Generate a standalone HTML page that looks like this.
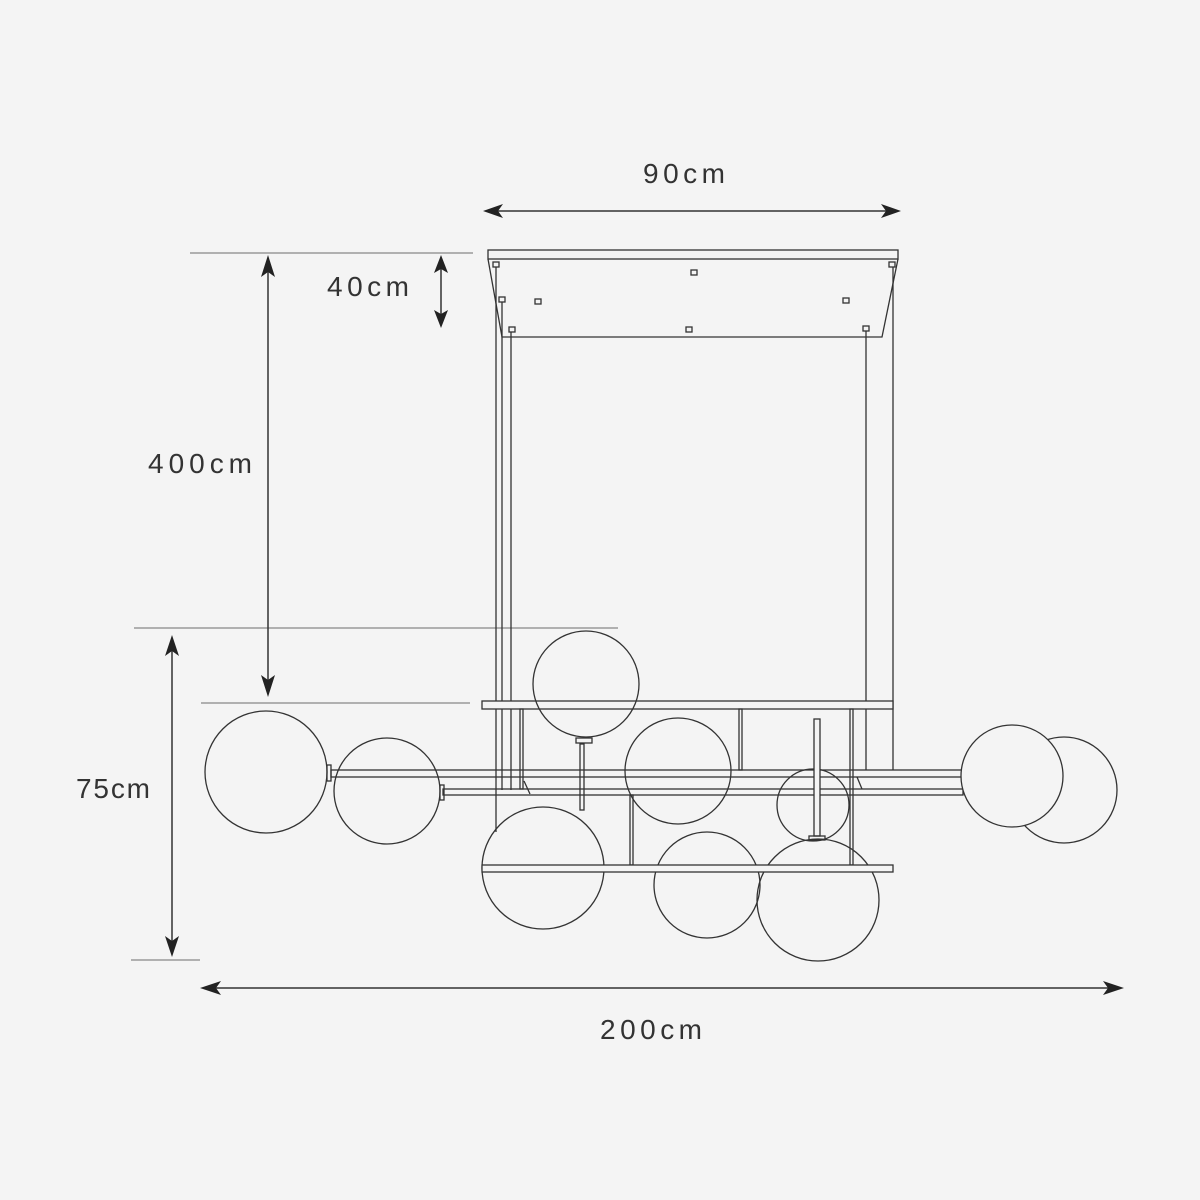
<!DOCTYPE html>
<html><head><meta charset="utf-8"><style>
html,body{margin:0;padding:0;background:#f4f4f4;}
svg{display:block;}
text{font-family:"Liberation Sans",sans-serif;font-size:28px;fill:#333;}
</style></head><body>
<svg width="1200" height="1200" viewBox="0 0 1200 1200" xmlns="http://www.w3.org/2000/svg">
<rect width="1200" height="1200" fill="#f4f4f4"/>
<!-- extension lines -->
<g stroke="#888" stroke-width="1.2" fill="none">
<line x1="190" y1="253" x2="473" y2="253"/>
<line x1="134" y1="628" x2="618" y2="628"/>
<line x1="201" y1="703" x2="470" y2="703"/>
<line x1="131" y1="960" x2="200" y2="960"/>
</g>
<!-- dimension lines -->
<g stroke="#333" stroke-width="1.5" fill="none">
<line x1="490" y1="211" x2="895" y2="211"/>
<line x1="441" y1="260" x2="441" y2="320"/>
<line x1="268" y1="262" x2="268" y2="690"/>
<line x1="172" y1="643" x2="172" y2="950"/>
<line x1="207" y1="988" x2="1116" y2="988"/>
</g>
<g fill="#222">
<path d="M483,211 L503,204 L498,211 L503,218 Z"/>
<path d="M901,211 L881,204 L886,211 L881,218 Z"/>
<path d="M441,255 L434,273 L441,269 L448,273 Z"/>
<path d="M441,328 L434,310 L441,314 L448,310 Z"/>
<path d="M268,255 L261,277 L268,272 L275,277 Z"/>
<path d="M268,697 L261,675 L268,680 L275,675 Z"/>
<path d="M172,635 L165,656 L172,651 L179,656 Z"/>
<path d="M172,957 L165,936 L172,941 L179,936 Z"/>
<path d="M200,988 L221,981 L216,988 L221,995 Z"/>
<path d="M1124,988 L1103,981 L1108,988 L1103,995 Z"/>
</g>
<text x="643" y="183" textLength="82">90cm</text>
<text x="327" y="296" textLength="82">40cm</text>
<text x="148" y="473" textLength="104">400cm</text>
<text x="76" y="798" textLength="74">75cm</text>
<text x="600" y="1039" textLength="102">200cm</text>

<g stroke="#333" stroke-width="1.3" fill="none">
<!-- canopy -->
<rect x="488" y="250" width="410" height="9"/>
<path d="M488,259 L502,337 L882,337 L898,259"/>
<rect x="493" y="262" width="6" height="5"/>
<rect x="691" y="270" width="6" height="5"/>
<rect x="889" y="262" width="6" height="5"/>
<rect x="499" y="297" width="6" height="5"/>
<rect x="535" y="299" width="6" height="5"/>
<rect x="843" y="298" width="6" height="5"/>
<rect x="509" y="327" width="6" height="5"/>
<rect x="686" y="327" width="6" height="5"/>
<rect x="863" y="326" width="6" height="5"/>
<!-- wires -->
<line x1="496" y1="267" x2="496" y2="832"/>
<line x1="502" y1="302" x2="502" y2="790"/>
<line x1="511" y1="332" x2="511" y2="790"/>
<line x1="866" y1="331" x2="866" y2="770"/>
<line x1="893" y1="267" x2="893" y2="770"/>
<!-- bars -->
<rect x="482" y="701" width="411" height="8" fill="#f4f4f4"/>
<rect x="331" y="770" width="631" height="7"/>
<rect x="443" y="789" width="520" height="6"/>
<!-- stems -->
<rect x="520" y="709" width="3" height="80"/>
<rect x="739" y="709" width="3" height="61"/>
<rect x="850" y="709" width="3" height="156"/>
<rect x="630" y="795" width="3" height="70"/>
<rect x="580" y="744" width="4" height="66"/>
<rect x="576" y="738" width="16" height="5"/>
<path d="M524,781 L530,794 M857,777 L862,789"/>
<rect x="327" y="765" width="4" height="16"/>
<rect x="440" y="785" width="4" height="15"/>
<!-- globes -->
<circle cx="266" cy="772" r="61"/>
<circle cx="387" cy="791" r="53"/>
<circle cx="586" cy="684" r="53"/>
<circle cx="678" cy="771" r="53"/>
<circle cx="813" cy="805" r="36"/>
<circle cx="1064" cy="790" r="53"/>
<circle cx="1012" cy="776" r="51" fill="#f4f4f4"/>
<circle cx="543" cy="868" r="61"/>
<circle cx="707" cy="885" r="53"/>
<circle cx="818" cy="900" r="61"/>
<rect x="814" y="719" width="6" height="117" fill="#f4f4f4"/>
<rect x="809" y="836" width="16" height="4"/>
<rect x="482" y="865" width="411" height="7" fill="#f4f4f4"/>
</g>
</svg>
</body></html>
